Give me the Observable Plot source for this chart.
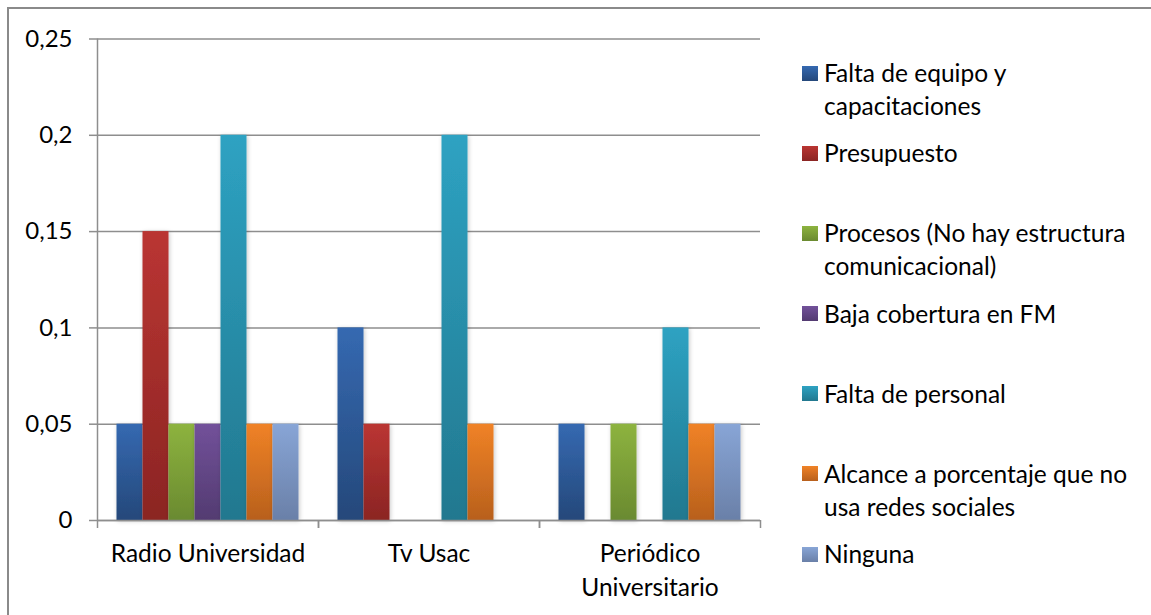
<!DOCTYPE html>
<html><head><meta charset="utf-8">
<script src="https://cdn.jsdelivr.net/npm/d3@7"></script>
<script src="https://cdn.jsdelivr.net/npm/@observablehq/plot@0.6"></script>
<style>
html,body{margin:0;padding:0;background:#fff;overflow:hidden}
#wrap{position:relative;width:1151px;height:615px;overflow:hidden;font-family:Lato,sans-serif;background:#fff}
#border{position:absolute;left:7px;top:7px;width:1300px;height:800px;border:2px solid #8a8a8a;box-sizing:border-box}
#chart{position:absolute;left:0;top:0}
#legend{position:absolute;left:802px;top:0;width:349px;height:615px}
.item{position:absolute;left:0;display:flex;align-items:flex-start}
.sw{width:16px;height:15px;margin-top:9.5px;flex:none}
.lab{margin-left:6px;font-size:24.5px;line-height:33px;white-space:pre;color:#000}
</style></head><body>
<div id="wrap"><div id="border"></div><div id="chart"></div><div id="legend"></div></div>
<script>
const categories = ["Radio Universidad", "Tv Usac", "Periódico Universitario"];
const categoryLabels = ["Radio Universidad", "Tv Usac", "Periódico\nUniversitario"];
const series = [
  "Falta de equipo y capacitaciones",
  "Presupuesto",
  "Procesos (No hay estructura comunicacional)",
  "Baja cobertura en FM",
  "Falta de personal",
  "Alcance a porcentaje que no usa redes sociales",
  "Ninguna"
];
const legendLabels = [
  "Falta de equipo y\ncapacitaciones",
  "Presupuesto",
  "Procesos (No hay estructura\ncomunicacional)",
  "Baja cobertura en FM",
  "Falta de personal",
  "Alcance a porcentaje que no\nusa redes sociales",
  "Ninguna"
];
const radioValues = [0.05, 0.15, 0.05, 0.05, 0.2, 0.05, 0.05];
const tvValues = [0.1, 0.05, 0, 0, 0.2, 0.05, 0];
const periodicoValues = [0.05, 0, 0.05, 0, 0.1, 0.05, 0.05];
const yTicks = [0, 0.05, 0.1, 0.15, 0.2, 0.25];

const topColors = ["#3569b1", "#ba3532", "#8db33f", "#72519a", "#2ea2c2", "#f08226", "#88a5d6"];
const bottomColors = ["#25487a", "#8b2523", "#6a8a30", "#533b71", "#22788f", "#b8601d", "#6a80a8"];

const valuesByCategory = [radioValues, tvValues, periodicoValues];
const rows = [];
categories.forEach((c, ci) => {
  valuesByCategory[ci].forEach((v, si) => {
    if (v > 0) rows.push({category: c, series: series[si], i: si, value: v});
  });
});

const pad = 0.75;
const xMin = -0.5 - pad, xMax = series.length - 0.5 + pad;
const grid = "#8e8e8e";
const fmt = d => String(d).replace(".", ",");

const svg = Plot.plot({
  width: 780,
  height: 615,
  marginLeft: 96,
  marginRight: 20,
  marginTop: 38.5,
  marginBottom: 95,
  style: {fontFamily: "Lato, sans-serif", fontSize: "24px", color: "#000", background: "transparent", overflow: "visible"},
  fx: {domain: categories, padding: 0, label: null},
  x: {domain: [xMin, xMax], axis: null},
  y: {domain: [0, 0.25], axis: null},
  color: {domain: series, range: topColors},
  marks: [
    Plot.ruleY(yTicks, {stroke: grid, strokeWidth: 1.5}),
    Plot.rectY(rows, {fx: "category", x1: d => d.i - 0.5, x2: d => d.i + 0.5, y1: 0, y2: "value", fill: "series"}),
    Plot.ruleY([0], {stroke: grid, strokeWidth: 1.5}),
    Plot.ruleX([xMin, xMax], {y1: 0, y2: 0, insetBottom: -8, stroke: grid, strokeWidth: 1.5}),
    Plot.ruleX([{category: categories[0], x: xMin}], {fx: "category", x: "x", y1: 0, y2: 0.25, stroke: grid, strokeWidth: 1.5}),
    Plot.axisY({ticks: yTicks, tickFormat: fmt, tickSize: 8, tickPadding: 17, stroke: grid, strokeWidth: 1.5, fill: "#000", fontSize: 24, label: null}),
    Plot.axisFx({anchor: "bottom", tickSize: 0, tickPadding: 17, fontSize: 24.5, lineHeight: 1.4, fill: "#000", label: null,
      tickFormat: d => categoryLabels[categories.indexOf(d)]})
  ]
});

// gradients + soft shadow
const s = d3.select(svg);
const defs = s.insert("defs", ":first-child");
topColors.forEach((c, i) => {
  const g = defs.append("linearGradient").attr("id", "grad" + i).attr("x1", 0).attr("y1", 0).attr("x2", 0).attr("y2", 1);
  g.append("stop").attr("offset", "0%").attr("stop-color", c);
  g.append("stop").attr("offset", "100%").attr("stop-color", bottomColors[i]);
});
const f = defs.append("filter").attr("id", "shadow").attr("x", "-30%").attr("y", "-10%").attr("width", "160%").attr("height", "120%");
f.append("feDropShadow").attr("dx", 1).attr("dy", 1).attr("stdDeviation", 2).attr("flood-color", "#000").attr("flood-opacity", 0.22);
s.selectAll("rect").each(function() {
  const fill = (this.getAttribute("fill") || "").toLowerCase();
  const k = topColors.indexOf(fill);
  if (k >= 0) {
    this.setAttribute("fill", `url(#grad${k})`);
    this.setAttribute("filter", "url(#shadow)");
  }
});
document.getElementById("chart").appendChild(svg);

// legend
const legend = d3.select("#legend");
const rowStart = 56, rowStep = 80.17;
legendLabels.forEach((lab, i) => {
  const item = legend.append("div").attr("class", "item").style("top", (rowStart + i * rowStep) + "px");
  item.append("div").attr("class", "sw").style("background", `linear-gradient(to bottom, ${topColors[i]}, ${bottomColors[i]})`);
  item.append("div").attr("class", "lab").text(lab);
});
</script>
</body></html>
